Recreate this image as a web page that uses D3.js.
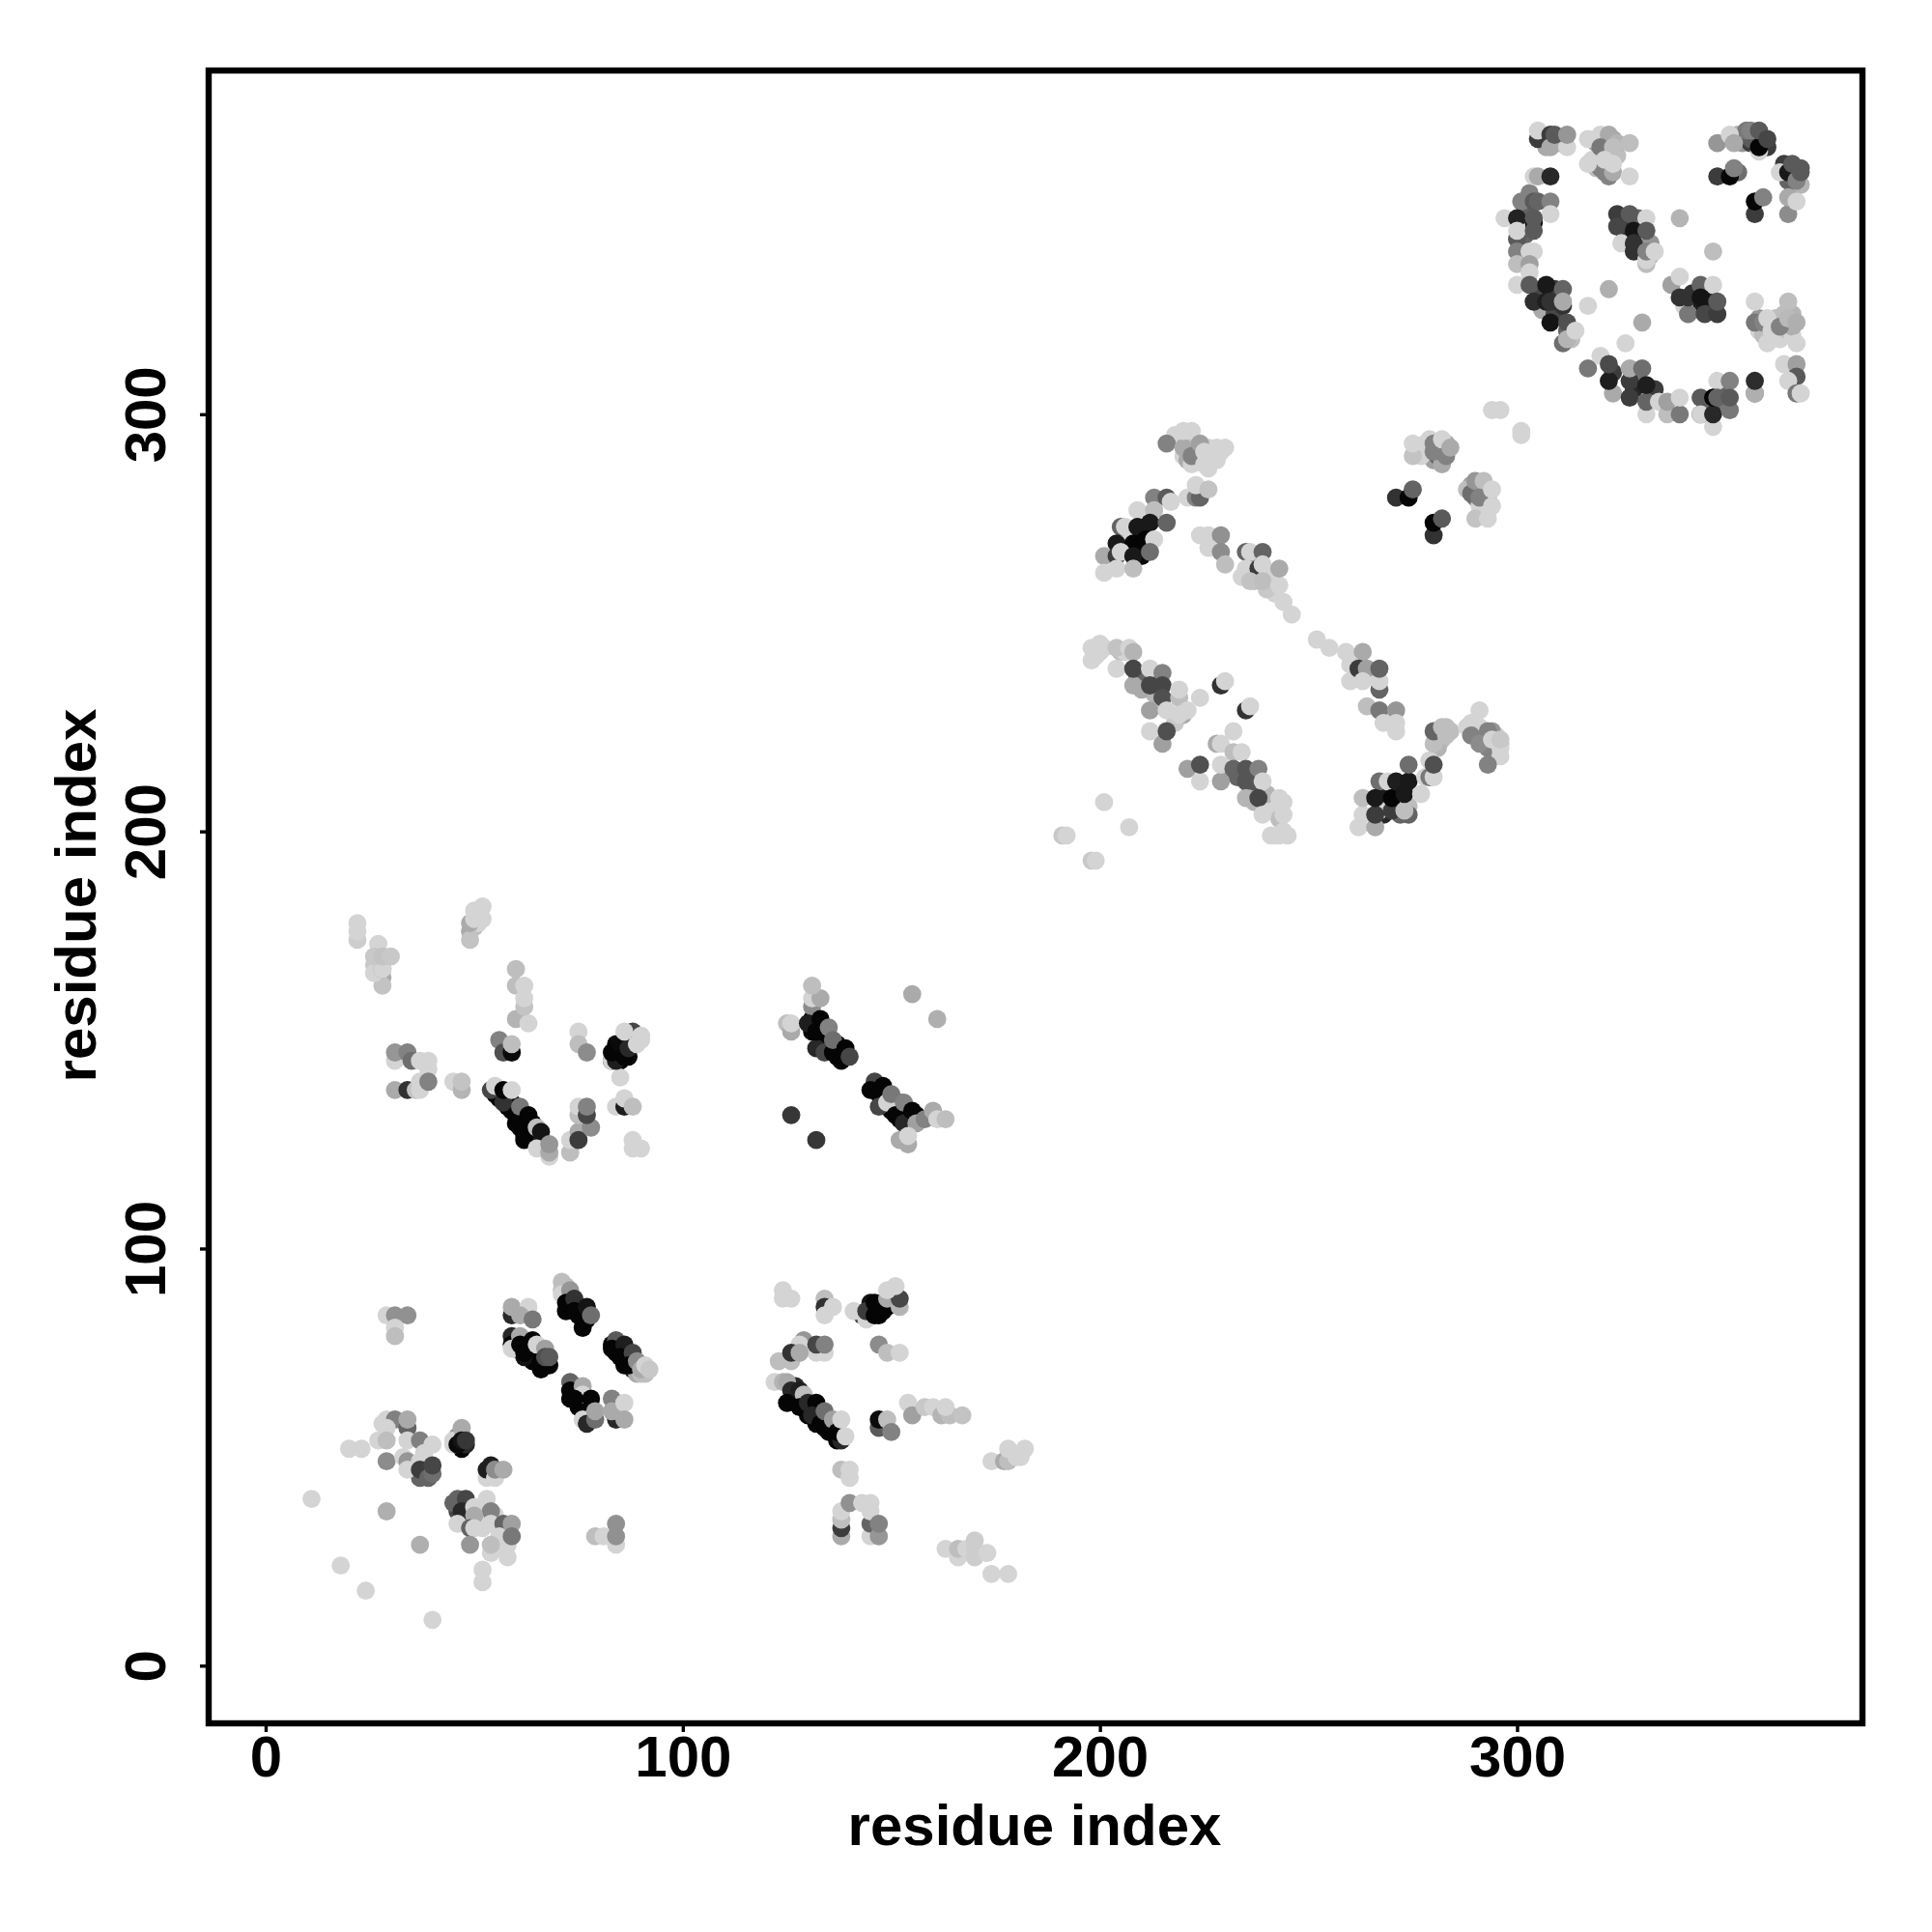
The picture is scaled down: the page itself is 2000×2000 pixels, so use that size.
<!DOCTYPE html>
<html><head><meta charset="utf-8">
<script src="https://cdn.jsdelivr.net/npm/d3@7/dist/d3.min.js"></script>
<style>html,body{margin:0;padding:0;background:#fff}</style></head>
<body><svg id="c" width="2000" height="2000"></svg>
<script>
const xTicks=[0,100,200,300], yTicks=[0,100,200,300];
const xTitle="residue index", yTitle="residue index";
// rows: residue x, residue y, grey level. Rows lying under other marks are listed first.
const buriedContacts=[[36,47,60],[36,48,100],[38,46,60],[39,47,60],[38,48,110],[37,45,100],[47,55,40],[46,55,150],[47,52,5],[48,53,40],[46,37,70],[47,39,60],[49,38,60],[48,35,40],[49,36,100],[51,35,212],[52,33,212],[55,36,212],[56,29,212],[57,29,212],[58,31,180],
[60,78,5],[60,76,5],[62,78,40],[63,76,5],[63,74,5],[65,75,5],[65,73,5],[66,75,5],[68,72,5],[66,71,5],[64,73,5],[62,74,20],[62,77,30],
[72,89,5],[73,87,40],[75,84,5],[76,85,20],[77,83,5],[75,86,40],[72,85,5],[76,81,5],[71,90,190],[72,91,190],
[83,77,5],[84,75,5],[86,74,5],[87,75,5],[86,72,5],[88,71,40],[89,70,170],[90,70,190],[91,70,190],
[74,67,5],[75,65,5],[75,62,5],[76,62,5],[77,62,5],[78,62,50],[76,61,5],[78,59,40],[73,64,5],[75,66,100],
[127,64,5],[129,62,5],[130,60,5],[131,62,5],[132,58,5],[133,60,5],[134,57,5],[135,59,5],[136,56,5],[137,54,5],[127,67,40],[129,63,5],
[146,85,5],[147,84,5],[147,86,5],[148,87,5],[149,86,5],[145,85,5],[145,87,20],[143,84,60],
[55,137,5],[56,136,5],[58,134,5],[59,133,5],[59,135,5],[60,130,5],[61,129,5],[61,132,5],[63,128,5],[64,127,5],[64,130,5],[62,127,5],[65,126,5],[66,126,20],
[84,147,5],[85,147,5],[85,145,5],[86,148,5],[87,146,10],[87,150,40],[86,150,30],[84,149,10],[83,145,30],[88,149,60],
[131,155,5],[132,154,5],[133,151,5],[134,150,5],[134,152,5],[135,149,5],[136,148,5],[137,149,5],[137,146,5],[138,147,5],[131,152,5],[139,146,20],[132,148,40],
[146,138,5],[147,137,5],[148,136,5],[149,134,5],[150,133,5],[150,135,5],[152,133,5],[152,131,5],[154,131,5],[154,129,40],[147,139,5],[152,135,80],[156,132,5],
[49,176,170],[50,177,190],[51,180,212],[51,178,212],[26,168,200],[28,165,170]];
const buriedUpper=[[319,365,160],[320,362,190],[321,365,170],[322,362,150],[322,364,190],[321,360,130],[322,360,170],[318,361,212],[319,359,190],[320,359,130],[322,357,130],[324,362,190],[323,366,170],
[358,320,212],[359,319,190],[360,321,190],[361,322,170],[362,323,190],[362,319,212],[363,318,212],[364,322,170],[365,320,190],[366,319,212],[364,324,190],[358,323,150],[366,324,180],[366,321,175],
[218,295,212],[219,294,212],[221,292,130],[222,294,212],[223,293,190],[223,290,212],[224,291,212],[226,292,212],[228,292,212],[220,290,212],[221,289,170],[222,288,212],[224,289,212],[226,287,212],[228,289,212],[230,292,212],
[276,292,212],[279,291,212],[280,289,160],[281,292,170],[281,290,100],[282,290,130],[283,293,170],[279,294,212],[277,290,212],
[289,283,160],[290,282,100],[291,282,130],[292,281,190],[292,283,212],[290,280,130],[293,280,190],[291,278,212],[293,277,212],
[206,270,25],[207,271,212],[209,269,212],[210,272,25],[207,268,5],[206,268,212],[209,267,212],[210,266,10],
[268,207,212],[269,206,212],[269,209,30],[271,209,212],[272,207,212],[272,211,212],[273,207,212],[271,205,100],[272,204,100],[268,204,40],[267,205,212],[274,206,190],[274,204,100],
[289,226,212],[290,224,212],[291,225,212],[292,223,212],[292,221,110],[293,222,100],[294,220,212],[295,220,212],[295,223,212],[291,222,110],[293,220,130],[296,218,212],[296,221,190],[294,224,150],
[281,223,190],[281,224,170],[282,222,190],[283,225,190],[284,224,190],[281,220,180],
[200,243,212],[201,244,212],[198,244,212],[198,241,212],[199,244,212],[205,243,190],[206,243,212],[209,237,100],[213,236,85],[214,237,80],[213,233,180],[210,234,170],[218,226,200],[220,228,170],[241,205,212],[242,206,212],[243,203,190],[244,200,212],[242,199,212],[241,199,212],[240,209,180],[237,207,180],[236,210,170],[237,212,85],[236,213,60],[231,214,150],[233,213,100],
[237,265,212],[238,265,150],[237,262,170],[240,262,212],[241,261,212],[241,259,212],[242,257,212],[238,262,212],[240,258,200],[234,261,212],[237,260,190],
[306,329,70],[309,330,60],[310,325,190],[306,325,170],[309,324,70],[312,320,100],[313,318,190],[323,310,60],[323,305,170],[328,306,40],[329,310,120],[333,306,60],[350,303,120],[349,306,100],[345,301,100],[303,353,130],[302,343,100],[302,349,100],[326,343,50],[326,346,60],[329,347,100],[332,341,150],[332,338,190],[331,336,190],[342,326,30],[340,326,212],[342,329,50],[345,330,20],[346,327,30],[353,367,170],[354,365,150],[356,365,60],[356,366,90],[359,365,50],[355,368,120],[364,360,60],[365,356,100],[366,355,100],[367,359,90],[368,355,180],[368,359,90],[353,358,110],[310,365,170],[307,364,170],[360,364,60]];
const lowerLeft=[[28,58,212],[29,59,212],[31,59,128],[34,57,100],[34,59,170],[29,57,212],[27,54,212],[29,54,190],[34,54,212],[37,54,128],[40,53,212],[20,52,212],[23,52,212],[29,49,140],[33,50,212],[34,49,150],[34,47,212],[37,49,212],[38,51,212],[37,47,60],[39,45,100],[40,46,110],[40,48,70],
[45,54,212],[45,53,212],[47,57,170],[46,53,10],[47,54,20],[48,54,55],
[53,45,212],[53,47,30],[54,48,30],[55,45,212],[55,47,140],[57,47,170],
[45,39,100],[46,40,100],[48,40,70],[47,37,40],[53,40,212],[50,38,212],[54,37,130],[50,36,170],[46,34,212],[49,33,100],[50,33,212],[54,34,212],[57,34,100],[59,34,160],[56,31,212],[58,29,212],[59,31,120],[49,29,150],[54,27,212],[54,29,190],[58,26,212],[52,20,212],[52,23,212],
[11,40,212],[29,37,175],[37,29,175],[18,24,212],[24,18,212],[40,11,212],
[79,31,190],[81,31,212],[84,29,212],[84,34,145],[84,31,145],
[29,84,212],[31,84,145],[34,84,145],[31,81,212],[31,79,190]];
const helixA=[[59,84,40],[59,86,170],[63,86,212],[61,84,170],[64,83,120],
[59,79,40],[59,77,5],[59,76,212],[61,79,170],[61,77,5],[62,75,5],[64,78,5],[65,77,212],[66,73,5],[67,76,160],[67,74,80],[68,74,90],
[71,92,190],[71,89,212],[73,90,150],[72,87,5],[74,88,50],[74,85,5],[76,83,5],[77,86,20],[78,84,110],
[84,78,90],[83,76,5],[86,77,30],[85,74,5],[88,75,70],[87,72,5],[89,73,140],[90,71,170],[91,72,212],[92,71,200],
[73,68,100],[73,66,5],[76,67,170],[76,65,212],[74,64,5],[77,60,5],[76,59,212],[77,58,40],[78,64,5],[79,59,110],[79,61,165],[84,59,40],[83,64,130],[83,61,170],[86,63,212],[86,59,170]];
const helixB=[[124,90,212],[124,88,212],[126,88,212],[134,88,190],[134,86,50],[134,84,212],[136,86,212],
[141,85,212],[144,83,212],[144,85,60],[146,87,5],[146,84,5],[148,85,5],[149,88,170],[152,86,180],[152,88,70],[149,90,212],[151,91,212],
[129,78,150],[128,77,212],[134,75,212],[132,75,212],[132,77,70],[134,77,130],[123,73,190],[126,73,190],[126,75,50],[128,75,170],
[147,77,140],[149,75,190],[152,75,212],
[122,68,212],[124,68,180],[125,68,170],[126,66,40],[125,63,5],[128,66,30],[129,65,190],[128,62,5],[130,63,40],[132,63,5],[131,60,40],[133,58,5],[134,61,110],[135,56,5],[136,59,160],[138,54,40],[137,56,5],[138,59,212],[139,55,212],
[147,57,90],[147,59,10],[149,59,190],[150,56,130],
[154,63,212],[155,60,160],[158,62,200],[160,62,212],[162,60,180],[164,60,190],[163,62,212],[167,60,195],
[174,49,212],[177,49,170],[178,49,190],[180,50,212],[178,52,212],[182,52,212],[181,50,212],
[138,47,190],[140,45,212],[140,47,212],
[138,31,170],[138,33,60],[138,35,190],[138,37,212],[140,39,145],[143,39,212],[145,31,212],[145,34,100],[145,37,212],[145,39,212],[147,31,150],[147,34,130],
[163,28,212],[166,26,212],[166,28,190],[168,28,212],[170,26,205],[170,28,205],[170,30,205],[173,27,212],[174,22,212],[178,22,212]];
const upperLeft=[[22,174,205],[22,176,212],[22,178,212],
[28,163,195],[26,166,212],[28,167,150],[28,167,212],[27,173,212],[26,170,200],[28,170,195],[30,170,200],
[49,174,195],[49,178,170],[50,179,212],[50,181,212],[52,179,212],[52,182,212],
[60,155,180],[63,154,212],[62,158,195],[60,163,190],[60,167,190],[62,160,212],[62,163,212],
[56,150,130],[57,147,80],[59,147,10],[59,149,190],
[75,152,212],[75,149,190],[77,147,140],
[31,145,212],[31,147,150],[34,147,130],[35,145,110],[37,145,212],[39,143,212],[39,145,212],
[31,138,170],[34,138,50],[36,138,195],[37,138,212],[37,140,212],[39,140,130],
[45,140,212],[47,138,180],[47,140,195],
[54,138,70],[55,139,212],[57,135,50],[57,138,5],[59,138,212],[60,132,5],[61,134,120],[62,129,5],[63,132,5],[62,126,5],[65,129,190],[66,125,50],[66,128,20],[65,124,212],[68,122,212],[68,123,170],[68,125,150],
[73,123,190],[73,126,212],[75,128,170],[75,126,60],[78,129,140],[75,132,190],[75,134,212],[77,132,70],[77,134,130],
[84,134,212],[86,134,30],[86,136,212],[88,134,190],
[88,124,212],[88,126,212],[90,124,212],
[83,145,212],[85,141,212],[84,145,30],[83,147,5],[85,149,10],[86,146,5],[87,148,40],[88,152,70],[86,152,212],[89,149,212],[90,151,212],[90,150,212]];
const helixC=[[131,158,140],[131,160,212],[133,160,170],[131,163,190],[125,154,190],[126,152,170],[126,154,212],
[130,154,30],[134,147,70],[132,152,5],[133,155,5],[135,153,130],[136,147,5],[136,150,110],[138,145,5],[139,148,5],[140,146,70],
[126,132,55],[132,126,55],[155,161,170],[161,155,175],
[146,140,70],[145,138,5],[148,139,5],[147,134,70],[149,135,212],[150,137,120],[151,132,5],[153,135,130],[153,130,40],[155,133,5],[156,130,160],[158,131,130],[160,133,170],[161,131,212],[163,131,190],
[154,125,170],[152,126,170],[154,127,212]];
const midLeft=[[199,242,212],[200,245,212],[204,239,212],[204,244,195],[207,244,212],[208,243,180],[208,235,170],[208,239,70],[212,239,212],[215,238,130],[212,235,70],[215,235,70],[215,232,80],[219,232,190],[219,234,212],[224,232,212],
[212,229,160],[216,229,212],[219,228,212],[221,229,212],
[215,221,160],[212,224,212],[216,224,80],
[229,235,50],[230,236,212],[235,229,50],[236,230,212],
[232,224,212],[228,221,170],[229,221,212],[232,219,190],[234,219,212],
[221,215,160],[224,212,212],[224,216,80],[229,212,160],[229,216,212],[232,215,100],[235,215,85],[238,215,130],[235,212,85],[239,212,212],[235,208,180],[238,208,70],[239,204,212],[243,208,212],[244,207,212],[244,204,212],[243,199,212],[245,199,212],
[201,207,212],[207,201,212],[191,199,200],[192,199,212],[198,193,200],[199,193,212]];
const midRight=[[252,246,212],[255,244,212],[259,243,212],[263,243,170],[260,236,212],[260,240,212],[262,239,60],[264,239,160],[263,236,212],[267,234,100],[267,236,212],[267,239,100],
[264,230,190],[267,229,120],[271,229,150],[268,226,212],[271,224,212],[271,226,212],
[262,201,212],[263,204,212],[263,208,190],[266,201,170],[266,204,60],[267,212,110],[266,208,25],[269,212,212],[270,205,60],[270,208,5],[271,212,30],[273,205,190],[273,209,25],[274,212,25],[274,216,110],[277,209,212],[278,213,212],[279,213,120],[280,213,212],[279,217,212],[280,216,80],
[280,221,190],[280,224,100],[282,225,190],[283,223,190],
[291,229,212],[288,225,212],[289,223,130],[293,224,130],[291,221,140],[293,216,130],[296,220,212],[294,222,212],[296,222,200]];
const upperMid=[[216,293,130],[220,292,170],[220,296,212],[222,296,212],[222,290,130],[224,293,160],[225,288,212],[225,291,212],[227,290,212],[229,291,212],
[221,280,212],[223,280,130],[224,280,100],[223,283,212],[226,282,195],
[213,280,130],[216,280,90],[217,279,212],[209,277,212],[213,277,190],
[205,273,100],[206,273,212],[209,273,25],[212,274,25],[216,274,100],[204,269,25],[208,269,5],[211,270,5],[213,270,212],[201,266,170],[204,266,60],[205,267,212],[208,266,25],[212,267,110],[201,262,212],[204,263,212],[208,263,190],
[224,271,212],[226,271,212],[229,271,145],[226,268,212],[229,267,140],[230,264,190],
[235,267,100],[236,267,212],[239,267,100],[235,263,212],[238,263,60],[239,264,212],[236,260,195],[239,260,190],[243,259,212],[243,263,170],[244,255,212],[246,252,212],
[271,280,50],[274,280,5],[275,282,100],[280,271,50],[280,274,5],[282,275,90],
[275,290,195],[275,293,212],[278,293,212],[280,293,130],[282,288,170],[280,291,130],[282,294,212],[283,290,130],[284,292,170],
[288,282,190],[289,281,110],[290,284,150],[292,284,190],[291,280,130],[290,275,195],[293,275,212],[294,278,212],[294,282,212],
[294,301,212],[296,301,212],[301,295,212],[301,296,212]];
const upperRight=[[305,366,60],[305,368,212],[308,367,60],[308,364,170],[312,364,212],[309,367,90],[312,367,150],
[317,366,212],[320,367,212],[322,367,170],[320,364,120],[324,365,180],[327,365,190],[323,364,190],[317,360,212],[321,358,130],[323,358,170],[321,361,212],[323,360,212],[327,357,212],
[304,357,212],[305,357,170],[308,357,40],
[301,351,130],[304,351,90],[305,351,100],[308,351,130],[297,347,212],[300,347,35],[308,348,212],[304,346,5],[304,347,90],[300,342,90],[300,344,212],[304,344,90],
[300,339,130],[303,339,212],[304,339,212],[300,336,190],[303,336,160],[303,334,212],
[300,331,212],[303,331,90],[307,331,25],[311,330,100],[304,327,45],[311,326,50],[307,327,30],[308,327,50],[311,327,170],
[308,322,20],[312,322,80],[311,317,110],[312,318,180],[314,320,212],
[317,326,212],[322,330,175],[330,322,170],[326,317,212],[339,347,180],[347,339,190],
[324,348,60],[327,348,90],[331,347,212],[324,345,70],[328,344,20],[331,344,90],[325,341,212],[328,339,50],[328,341,50],[331,337,212],[331,339,130],[333,339,212],
[337,331,160],[339,333,212],[339,328,50],[341,324,212],[341,324,120],[341,328,50],[344,331,100],[347,331,212],[344,328,20],[345,324,70],[348,324,60],[348,327,90],
[348,365,150],[351,367,212],[352,365,170],[358,363,212],[358,364,5],[356,368,130],[358,368,90],[360,366,70],
[348,357,60],[351,357,5],[352,359,130],
[357,348,60],[357,351,5],[359,352,130],
[363,358,212],[365,358,25],[366,360,90],[367,356,130],[368,358,90],
[365,348,140],[365,352,170],[367,351,212],
[357,327,212],[365,327,190],
[360,317,212],[367,317,212],[357,322,120],[359,322,130],[361,320,212],[360,323,212],[363,321,130],[365,323,185],[367,322,175],
[317,311,120],[320,314,212],[322,308,30],[322,312,75],[327,304,60],[327,308,60],[327,311,170],[330,311,110],[331,300,212],[331,303,100],[331,307,30],[334,303,212],[336,300,190],[336,303,160],[339,300,120],[339,304,212],[344,304,90],[344,300,70],[344,300,212],[347,297,212],[348,308,212],[351,308,130],[347,300,40],[347,304,5],[348,304,100],[351,301,120],[351,304,90],
[357,305,130],[357,305,175],[357,308,45],
[364,312,212],[367,312,160],[367,309,90],[365,308,212],[367,305,120],[368,305,212]];
const residuePairs=[...buriedContacts,...buriedUpper,...lowerLeft,...helixA,...helixB,...upperLeft,...helixC,...midLeft,...midRight,...upperMid,...upperRight];

const svg=d3.select("#c");
const x=d3.scaleLinear().domain([-13.66,382.8]).range([216,1928]);
const y=d3.scaleLinear().domain([-13.83,382.4]).range([1784,73]);
const grey=g=>d3.rgb(g,g,g).formatHex();
const font="'Liberation Sans',Arial,sans-serif";

svg.append("g").selectAll("circle").data(residuePairs).join("circle")
 .attr("cx",d=>x(d[0])).attr("cy",d=>y(d[1])).attr("r",9.4).attr("fill",d=>grey(d[2]));

svg.append("rect").attr("x",x.range()[0]).attr("y",y.range()[1]).attr("width",x.range()[1]-x.range()[0]).attr("height",y.range()[0]-y.range()[1])
 .attr("fill","none").attr("stroke","#000").attr("stroke-width",6.4);

const ax=svg.append("g").attr("transform",`translate(0,${y.range()[0]})`).call(d3.axisBottom(x).tickValues(xTicks).tickSize(9).tickPadding(0));
ax.select(".domain").remove();
ax.selectAll("line").attr("stroke-width",3.4).attr("stroke","#000");
ax.selectAll("text").attr("y",55).attr("dy",0).attr("font-family",font).attr("font-weight","bold").attr("font-size",60).attr("fill","#000");
const ay=svg.append("g").attr("transform",`translate(${x.range()[0]},0)`).call(d3.axisLeft(y).tickValues(yTicks).tickSize(9));
ay.select(".domain").remove();
ay.selectAll("line").attr("stroke-width",3.4).attr("stroke","#000");
ay.selectAll("text").attr("x",null).attr("dy",0).attr("text-anchor","middle").attr("transform","translate(-45,0) rotate(-90)").attr("y",0)
 .attr("font-family",font).attr("font-weight","bold").attr("font-size",60).attr("fill","#000");

svg.append("text").attr("x",1071).attr("y",1910).attr("text-anchor","middle").attr("font-family",font).attr("font-weight","bold").attr("font-size",60).text(xTitle);
svg.append("text").attr("transform","translate(99,927) rotate(-90)").attr("text-anchor","middle").attr("font-family",font).attr("font-weight","bold").attr("font-size",60).text(yTitle);
</script></body></html>
